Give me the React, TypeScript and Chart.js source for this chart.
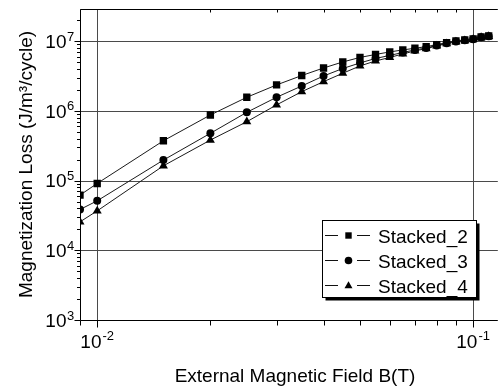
import React, { useEffect, useRef } from 'react';
import { Chart, registerables } from 'chart.js';

Chart.register(...registerables);

// ---- data ----
const fieldB = [0.009, 0.01, 0.015, 0.02, 0.025, 0.03, 0.035, 0.04, 0.045, 0.05, 0.055, 0.06, 0.065, 0.07, 0.075, 0.08, 0.085, 0.09, 0.095, 0.1, 0.105, 0.11];
const stacked2 = [6.2e4, 9.1e4, 3.73e5, 8.74e5, 1.57e6, 2.36e6, 3.22e6, 4.13e6, 5.04e6, 5.85e6, 6.46e6, 7.02e6, 7.5e6, 7.93e6, 8.36e6, 8.93e6, 9.55e6, 1.01e7, 1.04e7, 1.08e7, 1.15e7, 1.19e7];
const stacked3 = [3.85e4, 5.13e4, 1.97e5, 4.77e5, 9.55e5, 1.57e6, 2.28e6, 3.17e6, 4.06e6, 4.88e6, 5.66e6, 6.25e6, 6.9e6, 7.5e6, 8.01e6, 8.7e6, 9.36e6, 9.93e6, 1.03e7, 1.07e7, 1.14e7, 1.18e7];
const stacked4 = [2.56e4, 3.68e4, 1.63e5, 3.82e5, 7.0e5, 1.22e6, 1.89e6, 2.63e6, 3.47e6, 4.42e6, 5.21e6, 5.85e6, 6.57e6, 7.26e6, 7.83e6, 8.55e6, 9.24e6, 9.77e6, 1.02e7, 1.06e7, 1.13e7, 1.17e7];
const seriesNames = ['Stacked_2', 'Stacked_3', 'Stacked_4'];
const seriesMarkers = ['rect', 'circle', 'triangle'];

const xMajorTicks = [0.01, 0.1];
const yMajorTicks = [1e3, 1e4, 1e5, 1e6, 1e7];
const xMin = 0.009;
const xMax = 0.1163;
const yMin = 1e3;
const yMax = 2.9e7;

const xTitle = 'External Magnetic Field B(T)';
const yTitle = 'Magnetization Loss (J/m\u00B3/cycle)';

const FONT = '"Liberation Sans", Arial, Helvetica, sans-serif';

function minorValues(lo: number, hi: number): number[] {
  const out: number[] = [];
  const e0 = Math.floor(Math.log10(lo)) - 1;
  const e1 = Math.ceil(Math.log10(hi)) + 1;
  for (let e = e0; e <= e1; e++) {
    for (let m = 2; m <= 9; m++) {
      const v = m * Math.pow(10, e);
      if (v >= lo * 0.9999 && v <= hi * 1.0001) out.push(v);
    }
  }
  return out;
}

function drawMarker(ctx: CanvasRenderingContext2D, style: string, x: number, y: number, r: number) {
  ctx.beginPath();
  if (style === 'rect') {
    ctx.rect(x - r, y - r, 2 * r, 2 * r);
  } else if (style === 'circle') {
    ctx.arc(x, y, r, 0, Math.PI * 2);
  } else {
    ctx.moveTo(x, y - r * 1.1);
    ctx.lineTo(x + r * 1.05, y + r * 0.75);
    ctx.lineTo(x - r * 1.05, y + r * 0.75);
    ctx.closePath();
  }
  ctx.fill();
}

function powerLabel(v: number) {
  return String(Math.round(Math.log10(v)));
}

const decorPlugin = {
  id: 'decor',
  beforeDatasetsDraw(chart: any) {
    const { ctx, chartArea: a, scales } = chart;
    const xs = scales.x;
    const ys = scales.y;
    ctx.save();
    ctx.lineWidth = 1;
    ctx.strokeStyle = '#4a4a4a';
    ctx.beginPath();
    yMajorTicks.forEach((v) => {
      if (v <= yMin) return;
      const py = Math.round(ys.getPixelForValue(v)) + 0.5;
      ctx.moveTo(a.left, py);
      ctx.lineTo(a.right, py);
    });
    xMajorTicks.forEach((v) => {
      const px = Math.round(xs.getPixelForValue(v)) + 0.5;
      ctx.moveTo(px, a.top);
      ctx.lineTo(px, a.bottom);
    });
    ctx.stroke();

    // frame
    ctx.strokeStyle = '#000';
    ctx.beginPath();
    const L = Math.round(a.left) + 0.5;
    const T = Math.round(a.top) + 0.5;
    const B = Math.round(a.bottom) + 0.5;
    ctx.moveTo(a.right, T);
    ctx.lineTo(L, T);
    ctx.lineTo(L, B);
    ctx.lineTo(a.right, B);
    ctx.stroke();
    ctx.restore();
  },
  afterDraw(chart: any) {
    const { ctx, chartArea: a, scales } = chart;
    const xs = scales.x;
    const ys = scales.y;
    ctx.save();
    ctx.strokeStyle = '#000';
    ctx.lineWidth = 1;
    const L = Math.round(a.left) + 0.5;
    const T = Math.round(a.top) + 0.5;
    const B = Math.round(a.bottom) + 0.5;

    // ticks
    ctx.beginPath();
    yMajorTicks.forEach((v) => {
      const py = Math.round(ys.getPixelForValue(v)) + 0.5;
      ctx.moveTo(L - 6, py);
      ctx.lineTo(L, py);
    });
    minorValues(yMin, yMax).forEach((v) => {
      if (yMajorTicks.includes(v)) return;
      const py = Math.round(ys.getPixelForValue(v)) + 0.5;
      ctx.moveTo(L - 3.5, py);
      ctx.lineTo(L, py);
    });
    xMajorTicks.forEach((v) => {
      const px = Math.round(xs.getPixelForValue(v)) + 0.5;
      ctx.moveTo(px, B);
      ctx.lineTo(px, B + 7);
    });
    minorValues(xMin, xMax).forEach((v) => {
      if (xMajorTicks.some((m) => Math.abs(m - v) < 1e-9)) return;
      const px = Math.round(xs.getPixelForValue(v)) + 0.5;
      ctx.moveTo(px, B);
      ctx.lineTo(px, B + 5);
      ctx.moveTo(px, T);
      ctx.lineTo(px, T + 3);
    });
    ctx.stroke();

    // tick labels
    ctx.fillStyle = '#000';
    ctx.textBaseline = 'alphabetic';
    yMajorTicks.forEach((v) => {
      const py = ys.getPixelForValue(v);
      ctx.font = '19px ' + FONT;
      ctx.textAlign = 'right';
      ctx.fillText('10', 66.5, py + 6.8);
      ctx.font = '13px ' + FONT;
      ctx.textAlign = 'left';
      ctx.fillText(powerLabel(v), 67, py - 0.5);
    });
    xMajorTicks.forEach((v) => {
      const px = xs.getPixelForValue(v);
      ctx.font = '19px ' + FONT;
      const wBase = ctx.measureText('10').width;
      ctx.font = '13px ' + FONT;
      const exp = powerLabel(v);
      const wExp = ctx.measureText(exp).width;
      const start = px - (wBase + wExp + 1) / 2;
      ctx.textAlign = 'left';
      ctx.font = '19px ' + FONT;
      ctx.fillText('10', start, 348.3);
      ctx.font = '13px ' + FONT;
      ctx.fillText(exp, start + wBase + 1, 339.5);
    });

    // axis titles
    ctx.font = '19px ' + FONT;
    ctx.textAlign = 'center';
    ctx.fillText(xTitle, 295, 381.5);
    ctx.save();
    ctx.translate(32, (a.top + a.bottom) / 2);
    ctx.rotate(-Math.PI / 2);
    ctx.fillText(yTitle, 0, 0);
    ctx.restore();

    // legend
    const bx = 322.5, by = 220.5, bw = 154, bh = 77;
    ctx.fillStyle = '#000';
    ctx.fillRect(bx + 3, by + 3, bw, bh);
    ctx.fillStyle = '#fff';
    ctx.fillRect(bx, by, bw, bh);
    ctx.strokeStyle = '#000';
    ctx.strokeRect(bx, by, bw, bh);
    seriesNames.forEach((name, i) => {
      const cy = 235 + i * 25;
      ctx.strokeStyle = '#111';
      ctx.beginPath();
      ctx.moveTo(325, cy + 0.5);
      ctx.lineTo(338, cy + 0.5);
      ctx.moveTo(357, cy + 0.5);
      ctx.lineTo(370, cy + 0.5);
      ctx.stroke();
      ctx.fillStyle = '#000';
      drawMarker(ctx, seriesMarkers[i], 348.5, cy + 0.5, seriesMarkers[i] === 'rect' ? 3.2 : 3.8);
      ctx.font = '19px ' + FONT;
      ctx.textAlign = 'left';
      ctx.fillText(name, 378, cy + 8);
    });
    ctx.restore();
  },
};

export default function App() {
  const ref = useRef<HTMLCanvasElement | null>(null);
  useEffect(() => {
    if (!ref.current) return;
    const seriesValues = [stacked2, stacked3, stacked4];
    const chart = new Chart(ref.current, {
      type: 'line',
      data: {
        datasets: seriesNames.map((name, i) => ({
          label: name,
          data: fieldB.map((b, j) => ({ x: b, y: seriesValues[i][j] })),
          borderColor: '#1a1a1a',
          borderWidth: 1,
          backgroundColor: '#000',
          pointBackgroundColor: '#000',
          pointBorderColor: '#000',
          pointBorderWidth: 0,
          pointStyle: seriesMarkers[i] as any,
          pointRadius: seriesMarkers[i] === 'rect' ? 5.2 : seriesMarkers[i] === 'circle' ? 4 : 5.2,
          tension: 0,
          fill: false,
        })),
      },
      options: {
        responsive: false,
        devicePixelRatio: 1,
        animation: false,
        events: [],
        layout: { padding: { top: 9, left: 0, right: 0, bottom: 0 } },
        plugins: {
          legend: { display: false },
          tooltip: { enabled: false },
          title: { display: false },
        },
        scales: {
          x: {
            type: 'logarithmic',
            position: 'bottom',
            min: xMin,
            max: xMax,
            grid: { display: false },
            border: { display: false },
            ticks: { display: false },
            afterFit: (s: any) => {
              s.height = 66;
            },
          },
          y: {
            type: 'logarithmic',
            position: 'left',
            min: yMin,
            max: yMax,
            grid: { display: false },
            border: { display: false },
            ticks: { display: false },
            afterFit: (s: any) => {
              s.width = 80;
            },
          },
        },
      },
      plugins: [decorPlugin],
    });
    return () => chart.destroy();
  }, []);
  return (
    <div style={{ position: 'fixed', left: 0, top: 0, width: 503, height: 386, background: '#fff', overflow: 'hidden' }}>
      <canvas ref={ref} width={503} height={386} style={{ display: 'block' }} />
    </div>
  );
}
